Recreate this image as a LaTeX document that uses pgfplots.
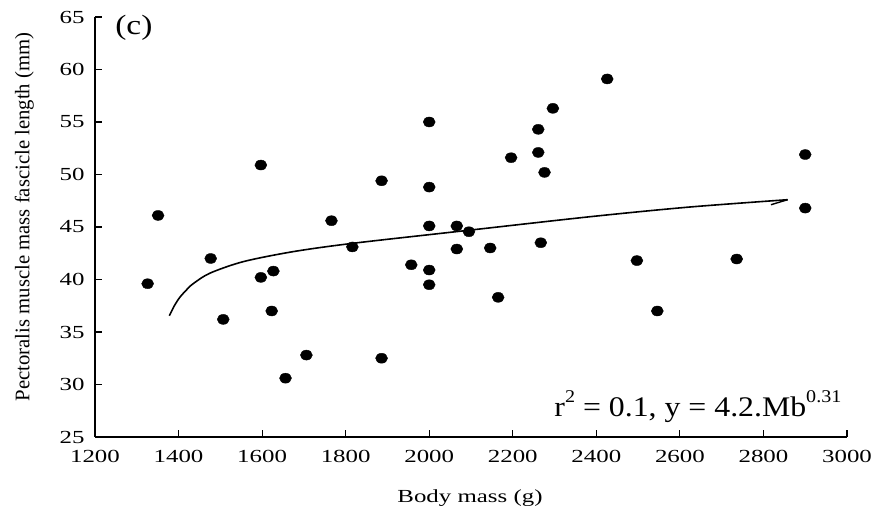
\documentclass[border=0pt]{standalone}
\usepackage{pgfplots}
\pgfplotsset{compat=1.18}
\usepackage{fontspec}
\setmainfont{Liberation Serif}
\newfontfamily\tickfont{Liberation Serif}[FakeStretch=1.35]
\newfontfamily\notefont{Liberation Serif}[FakeStretch=1.12]
\newfontfamily\cfont{Liberation Serif}[FakeStretch=1.2]
\begin{document}
\begin{tikzpicture}
\begin{axis}[
  scale only axis,
  width=752bp, height=420bp,
  xmin=1200, xmax=3000, ymin=25, ymax=65,
  xtick={1200,1400,...,3000},
  ytick={25,30,...,65},
  axis lines*=left,
  axis line style={line width=1.2bp},
  tick align=inside,
  major tick length=7bp,
  tick style={line width=1.1bp, black},
  scaled ticks=false,
  /pgf/number format/1000 sep={},
  /pgf/number format/assume math mode=true,
  ticklabel style={font=\tickfont\fontsize{18.5}{20}\selectfont},
  yticklabel style={xshift=-7bp},
  xticklabel style={yshift=-10bp},
  xlabel={Body mass (g)},
  ylabel={Pectoralis muscle mass fascicle length (mm)},
  xlabel style={font=\tickfont\fontsize{18.5}{20}\selectfont, at={(rel axis cs:0.4987,-0.155)}, anchor=base},
  ylabel style={font=\fontsize{20.8}{22}\selectfont, at={(rel axis cs:-0.094,0.524)}, anchor=center},
  clip=false,
]
\addplot[only marks, mark=*, mark size=5bp, mark options={fill=black, draw=black, xscale=1.2}] coordinates {
(1326,39.6) (1351,46.1) (1477,42.0) (1507,36.2) (1597,40.2) (1597,50.9)
(1623,37.0) (1627,40.8) (1656,30.6) (1706,32.8) (1766,45.6) (1816,43.1)
(1886,49.4) (1886,32.5) (1957,41.4) (2000,55.0) (2000,48.8) (2000,45.1)
(2000,40.9) (2000,39.5) (2066,45.1) (2066,42.9) (2095,44.55) (2146,43.0)
(2165,38.3) (2196,51.6) (2261,54.3) (2261,52.1) (2267,43.5) (2276,50.2)
(2296,56.3) (2426,59.1) (2497,41.8) (2546,37.0) (2736,41.95) (2900,51.9)
(2900,46.8)
};
\addplot[smooth, line width=1.6bp, black, no marks] coordinates {
(1378,36.55) (1390,37.5) (1403,38.3) (1420,39.05) (1435,39.6) (1475,40.6)
(1555,41.7) (1674,42.65) (1818,43.45) (2097,44.7) (2390,46.0) (2623,46.9)
(2858,47.6)
};
\addplot[line width=1.4bp, black, no marks] coordinates {(2858,47.6) (2818,47.12)};
\node[font=\cfont\fontsize{28}{30}\selectfont, anchor=center] at (axis cs:1293,64.0) {(c)};
\node[font=\notefont\fontsize{28.5}{30}\selectfont, anchor=base east, inner sep=0pt] at (axis cs:2987,26.93)
  {r\raisebox{0.5em}{\fontsize{18}{18}\selectfont 2} = 0.1, y = 4.2.Mb\raisebox{0.5em}{\fontsize{18}{18}\selectfont 0.31}};
\coordinate (ll) at (rel axis cs:0,0);
\coordinate (ur) at (rel axis cs:1,1);
\end{axis}
\pgfresetboundingbox
\path[use as bounding box] ([shift={(-95bp,-77bp)}]ll) rectangle ([shift={(28bp,17bp)}]ur);
\end{tikzpicture}
\end{document}
